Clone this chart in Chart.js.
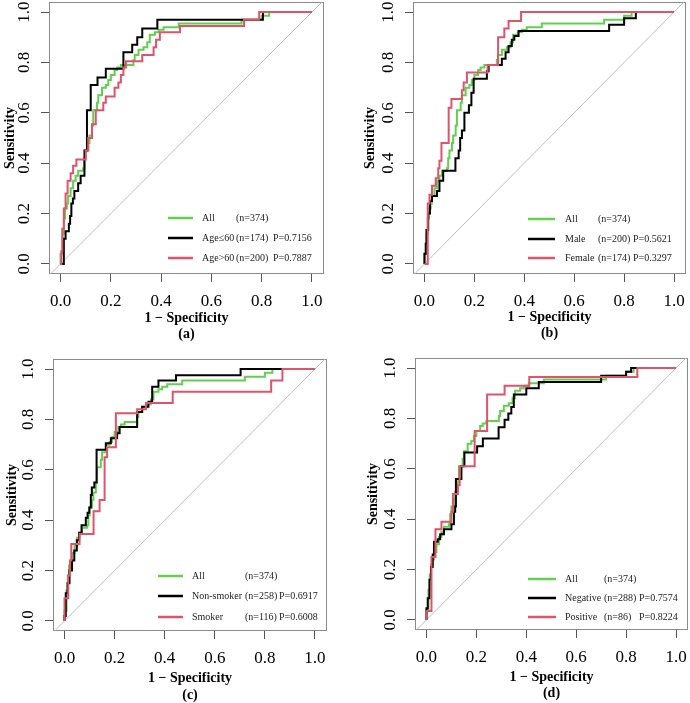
<!DOCTYPE html>
<html><head><meta charset="utf-8">
<script src="https://cdn.jsdelivr.net/npm/chart.js@4/dist/chart.umd.min.js"></script>
<style>
html,body{margin:0;padding:0;background:#fff;}
#wrap{position:relative;width:690px;height:703px;overflow:hidden;}
.p{position:absolute;}
canvas{display:block;}
</style></head><body>
<div id="wrap">
<div class="p" style="left:0;top:0"><canvas id="ca" width="345" height="350"></canvas></div>
<div class="p" style="left:345px;top:0"><canvas id="cb" width="345" height="350"></canvas></div>
<div class="p" style="left:0;top:350px"><canvas id="cc" width="345" height="353"></canvas></div>
<div class="p" style="left:345px;top:350px"><canvas id="cd" width="345" height="353"></canvas></div>
</div>
<script>
// ---------- data ----------
const tickValues = [0, 0.2, 0.4, 0.6, 0.8, 1.0];
const tickLabels = ['0.0', '0.2', '0.4', '0.6', '0.8', '1.0'];
const diagonalX = [-0.1, 1.1];
const diagonalY = [-0.1, 1.1];

// All patients (n=374)
const allFpr = [0, 0.0, 0.008, 0.013, 0.018, 0.025, 0.03, 0.04, 0.05, 0.06, 0.07, 0.09, 0.095, 0.10, 0.11, 0.115, 0.125, 0.13, 0.145, 0.15, 0.165, 0.18, 0.19, 0.20, 0.215, 0.225, 0.24, 0.29, 0.295, 0.31, 0.33, 0.345, 0.355, 0.375, 0.39, 0.41, 0.47, 0.72, 0.80, 0.83, 1.0];
const allTpr = [0, 0.04, 0.12, 0.18, 0.22, 0.24, 0.27, 0.30, 0.33, 0.35, 0.37, 0.38, 0.42, 0.45, 0.48, 0.51, 0.55, 0.61, 0.64, 0.67, 0.70, 0.71, 0.73, 0.75, 0.77, 0.78, 0.79, 0.81, 0.83, 0.85, 0.86, 0.88, 0.91, 0.92, 0.93, 0.94, 0.955, 0.97, 0.985, 1.0, 1.0];

// (a) Age
const ageLe60Fpr = [0, 0.013, 0.02, 0.033, 0.038, 0.043, 0.049, 0.055, 0.07, 0.08, 0.095, 0.105, 0.12, 0.147, 0.18, 0.25, 0.285, 0.305, 0.325, 0.385, 0.805, 1.0];
const ageLe60Tpr = [0, 0.10, 0.13, 0.16, 0.19, 0.24, 0.26, 0.29, 0.32, 0.35, 0.45, 0.61, 0.71, 0.74, 0.775, 0.84, 0.87, 0.90, 0.935, 0.97, 1.0, 1.0];
const ageGt60Fpr = [0, 0.003, 0.007, 0.013, 0.02, 0.028, 0.04, 0.05, 0.063, 0.1, 0.11, 0.125, 0.14, 0.17, 0.18, 0.215, 0.23, 0.24, 0.25, 0.26, 0.325, 0.37, 0.38, 0.395, 0.475, 0.73, 0.79, 1.0];
const ageGt60Tpr = [0, 0.05, 0.14, 0.22, 0.28, 0.33, 0.36, 0.39, 0.415, 0.45, 0.50, 0.555, 0.61, 0.64, 0.665, 0.70, 0.72, 0.75, 0.78, 0.805, 0.83, 0.86, 0.89, 0.92, 0.945, 0.97, 1.0, 1.0];

// (b) Sex
const maleFpr = [0, 0.0, 0.005, 0.008, 0.015, 0.022, 0.03, 0.05, 0.06, 0.075, 0.124, 0.137, 0.143, 0.15, 0.16, 0.178, 0.188, 0.197, 0.25, 0.257, 0.31, 0.325, 0.337, 0.35, 0.36, 0.377, 0.74, 0.80, 0.847, 1.0];
const maleTpr = [0, 0.04, 0.08, 0.135, 0.20, 0.25, 0.27, 0.29, 0.33, 0.37, 0.42, 0.45, 0.50, 0.53, 0.60, 0.63, 0.68, 0.735, 0.765, 0.79, 0.815, 0.84, 0.865, 0.89, 0.905, 0.925, 0.95, 0.975, 1.0, 1.0];
const femaleFpr = [0, 0.013, 0.02, 0.03, 0.045, 0.055, 0.06, 0.068, 0.097, 0.108, 0.15, 0.157, 0.17, 0.253, 0.295, 0.32, 0.337, 0.387, 1.0];
const femaleTpr = [0, 0.24, 0.275, 0.31, 0.34, 0.38, 0.41, 0.48, 0.62, 0.655, 0.69, 0.72, 0.76, 0.79, 0.90, 0.935, 0.965, 1.0, 1.0];

// (c) Smoking
const nonSmokerFpr = [0, 0.0, 0.005, 0.012, 0.02, 0.03, 0.039, 0.049, 0.058, 0.068, 0.085, 0.092, 0.099, 0.105, 0.109, 0.119, 0.128, 0.165, 0.185, 0.21, 0.22, 0.29, 0.31, 0.335, 0.35, 0.375, 0.445, 0.703, 1.0];
const nonSmokerTpr = [0, 0.02, 0.11, 0.15, 0.20, 0.24, 0.28, 0.32, 0.35, 0.38, 0.41, 0.43, 0.45, 0.50, 0.53, 0.55, 0.68, 0.705, 0.725, 0.745, 0.77, 0.83, 0.85, 0.87, 0.93, 0.955, 0.975, 1.0, 1.0];
const smokerFpr = [0, 0.0, 0.015, 0.022, 0.027, 0.06, 0.116, 0.14, 0.16, 0.17, 0.205, 0.29, 0.325, 0.432, 0.825, 0.87, 1.0];
const smokerTpr = [0, 0.09, 0.18, 0.24, 0.305, 0.345, 0.435, 0.48, 0.65, 0.69, 0.825, 0.84, 0.865, 0.91, 0.955, 1.0, 1.0];

// (d) Negative / Positive
const negativeFpr = [0, 0.0, 0.005, 0.012, 0.018, 0.025, 0.03, 0.045, 0.055, 0.07, 0.1, 0.11, 0.115, 0.118, 0.14, 0.152, 0.203, 0.226, 0.289, 0.313, 0.328, 0.34, 0.35, 0.40, 0.45, 0.70, 0.80, 0.82, 1.0];
const negativeTpr = [0, 0.046, 0.086, 0.16, 0.21, 0.26, 0.31, 0.32, 0.34, 0.36, 0.38, 0.43, 0.45, 0.56, 0.61, 0.665, 0.69, 0.72, 0.765, 0.795, 0.82, 0.845, 0.895, 0.92, 0.945, 0.97, 0.985, 1.0, 1.0];
const positiveFpr = [0, 0.0, 0.02, 0.036, 0.06, 0.1, 0.106, 0.126, 0.133, 0.193, 0.243, 0.313, 0.412, 0.845, 1.0];
const positiveTpr = [0, 0.035, 0.25, 0.36, 0.39, 0.43, 0.50, 0.535, 0.61, 0.75, 0.895, 0.93, 0.965, 1.0, 1.0];

// legend texts
const legendA = { names: ['All', 'Age\u226460', 'Age>60'], ns: ['(n=374)', '(n=174)', '(n=200)'], ps: ['', 'P=0.7156', 'P=0.7887'] };
const legendB = { names: ['All', 'Male', 'Female'], ns: ['(n=374)', '(n=200)', '(n=174)'], ps: ['', 'P=0.5621', 'P=0.3297'] };
const legendC = { names: ['All', 'Non-smoker', 'Smoker'], ns: ['(n=374)', '(n=258)', '(n=116)'], ps: ['', 'P=0.6917', 'P=0.6008'] };
const legendD = { names: ['All', 'Negative', 'Positive'], ns: ['(n=374)', '(n=288)', '(n=86)'], ps: ['', 'P=0.7574', 'P=0.8224'] };
const panelLetters = ['(a)', '(b)', '(c)', '(d)'];
const xTitle = '1 \u2212 Specificity';
const yTitle = 'Sensitivity';

// ---------- styling / layout ----------
const GREEN = '#61D04F', BLACK = '#000000', RED = '#DF536B', DIAG = '#BEBEBE', FRAME = '#8a8a8a', TICK = '#555555';
const SERIF = '"Liberation Serif", "Times New Roman", serif';

const zip = (xs, ys) => xs.map((x, i) => ({ x: x, y: ys[i] }));

const panels = [
  { id: 'ca', h: 350, area: { left: 49, top: 2, right: 324, bottom: 274 }, letter: panelLetters[0],
    black: [ageLe60Fpr, ageLe60Tpr], red: [ageGt60Fpr, ageGt60Tpr], legend: legendA,
    lg: { line: [168, 193], rows: [218, 238, 258], cols: [202, 236, 273] }, tdy: [44, 60], sx: 10 },
  { id: 'cb', h: 350, area: { left: 68, top: 2, right: 341, bottom: 274 }, letter: panelLetters[1],
    black: [maleFpr, maleTpr], red: [femaleFpr, femaleTpr], legend: legendB,
    lg: { line: [183, 210], rows: [219, 239, 258], cols: [220, 253, 288] }, tdy: [43, 59], sx: 25 },
  { id: 'cc', h: 353, area: { left: 53, top: 9, right: 327, bottom: 281 }, letter: panelLetters[2],
    black: [nonSmokerFpr, nonSmokerTpr], red: [smokerFpr, smokerTpr], legend: legendC,
    lg: { line: [158, 183], rows: [226, 246, 267], cols: [192, 245, 279] }, tdy: [47, 64], sx: 12 },
  { id: 'cd', h: 353, area: { left: 70, top: 8, right: 343, bottom: 280 }, letter: panelLetters[3],
    black: [negativeFpr, negativeTpr], red: [positiveFpr, positiveTpr], legend: legendD,
    lg: { line: [183, 211], rows: [229, 248, 267], cols: [220, 259, 294] }, tdy: [47, 63], sx: 28 }
];

function decor(p) {
  return {
    id: 'decor' + p.id,
    beforeDatasetsDraw(chart) {
      const a = chart.chartArea, ctx = chart.ctx;
      ctx.save();
      ctx.strokeStyle = FRAME; ctx.lineWidth = 1;
      ctx.strokeRect(Math.round(a.left) + 0.5, Math.round(a.top) + 0.5, Math.round(a.right - a.left) - 1, Math.round(a.bottom - a.top) - 1);
      ctx.restore();
    },
    afterDraw(chart) {
      const a = chart.chartArea, ctx = chart.ctx;
      ctx.save();
      ctx.fillStyle = '#000';
      ctx.textAlign = 'center'; ctx.textBaseline = 'middle';
      ctx.font = 'bold 14px ' + SERIF;
      const cx = (a.left + a.right) / 2;
      ctx.fillText(xTitle, cx, a.bottom + p.tdy[0]);
      ctx.fillText(p.letter, cx, a.bottom + p.tdy[1]);
      const ys = chart.scales.y;
      const cy = (ys.getPixelForValue(0) + ys.getPixelForValue(1)) / 2;
      ctx.save();
      ctx.translate(p.sx, cy); ctx.rotate(-Math.PI / 2);
      ctx.fillText(yTitle, 0, 0);
      ctx.restore();
      // legend
      const cols = [GREEN, BLACK, RED];
      ctx.font = '10px ' + SERIF;
      ctx.textAlign = 'left';
      for (let i = 0; i < 3; i++) {
        const y = p.lg.rows[i];
        ctx.strokeStyle = cols[i]; ctx.lineWidth = 2.5;
        ctx.beginPath(); ctx.moveTo(p.lg.line[0], y); ctx.lineTo(p.lg.line[1], y); ctx.stroke();
        ctx.fillStyle = '#222';
        ctx.fillText(p.legend.names[i], p.lg.cols[0], y);
        ctx.fillText(p.legend.ns[i], p.lg.cols[1], y);
        if (p.legend.ps[i]) ctx.fillText(p.legend.ps[i], p.lg.cols[2], y);
      }
      ctx.restore();
    }
  };
}

panels.forEach(p => {
  const W = 345, H = p.h, A = p.area;
  const line = (data, color, order, w) => ({
    data: data, borderColor: color, backgroundColor: color, borderWidth: w,
    pointRadius: 0, fill: false, stepped: 'before', order: order, tension: 0
  });
  new Chart(document.getElementById(p.id), {
    type: 'line',
    data: {
      datasets: [
        Object.assign(line(zip(diagonalX, diagonalY), DIAG, 10, 1), { stepped: false }),
        line(zip(allFpr, allTpr), GREEN, 3, 2),
        line(zip(p.black[0], p.black[1]), BLACK, 2, 2),
        line(zip(p.red[0], p.red[1]), RED, 1, 2)
      ]
    },
    options: {
      responsive: false, animation: false, devicePixelRatio: 1,
      layout: { padding: { left: 0, top: A.top, right: W - A.right, bottom: 0 } },
      plugins: { legend: { display: false }, tooltip: { enabled: false }, title: { display: false } },
      scales: {
        x: {
          type: 'linear', min: -0.046, max: 1.048,
          afterBuildTicks: s => { s.ticks = tickValues.map(v => ({ value: v })); },
          afterFit: s => { s.height = H - A.bottom; s.paddingLeft = 0; s.paddingRight = 0; },
          grid: { display: true, drawOnChartArea: false, drawTicks: true, tickLength: 8, color: TICK, lineWidth: 1 },
          border: { display: false },
          ticks: { callback: (v, i) => tickLabels[i], font: { family: SERIF, size: 17 }, color: '#000', padding: 9, maxRotation: 0, minRotation: 0, autoSkip: false }
        },
        y: {
          type: 'linear', min: -0.04, max: 1.04,
          afterBuildTicks: s => { s.ticks = tickValues.map(v => ({ value: v })); },
          afterFit: s => { s.width = A.left; s.paddingTop = 0; s.paddingBottom = 0; },
          grid: { display: true, drawOnChartArea: false, drawTicks: true, tickLength: 8, color: TICK, lineWidth: 1 },
          border: { display: false },
          ticks: { callback: (v, i) => tickLabels[i], font: { family: SERIF, size: 17 }, color: '#000', padding: 6, minRotation: 90, maxRotation: 90, crossAlign: 'center', autoSkip: false }
        }
      }
    },
    plugins: [decor(p)]
  });
});
</script>
</body></html>
